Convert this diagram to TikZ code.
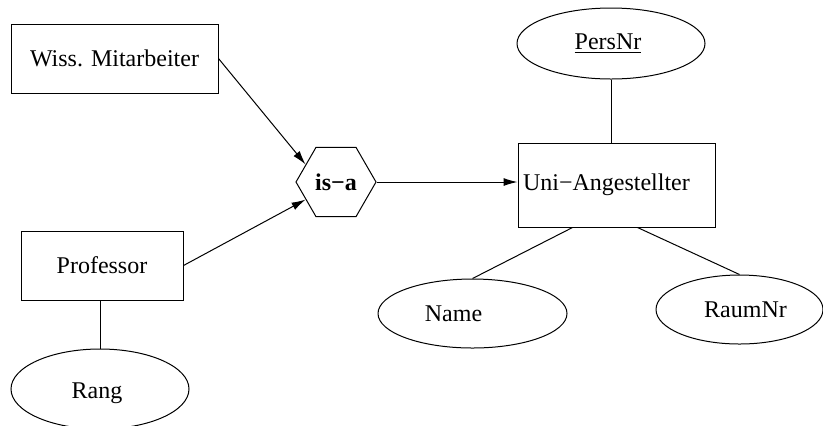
\documentclass[tikz,border=0pt]{standalone}
\usepackage{fontspec}
\setmainfont{Liberation Serif}
\usetikzlibrary{shapes.geometric, arrows.meta}

\tikzset{
    every label/.style={font=\fontsize{12}{14}\selectfont, inner sep=0pt},
    entity/.style={draw, rectangle, line width=0.5pt, font=\fontsize{12}{14}\selectfont},
    attr/.style={draw, ellipse, line width=0.5pt, inner sep=0pt},
    isarel/.style={draw, regular polygon, regular polygon sides=6, minimum size=40pt,
        inner sep=0pt, line width=0.5pt, font=\fontsize{12}{14}\selectfont\bfseries},
    conn/.style={line width=0.5pt},
    isaarrow/.style={line width=0.5pt, -{Latex[length=7pt, width=4pt]}}
}

\begin{document}
\begin{tikzpicture}[x=0.5pt, y=-0.5pt]
    \useasboundingbox (0,0) rectangle (823,425);

    % Entitaeten
    \node[entity, minimum width=103.5pt, minimum height=34.5pt] (wiss) at (114.5,58.5) {Wiss. Mitarbeiter};
    \node[entity, minimum width=81pt, minimum height=34.5pt] (prof) at (102,265.5) {Professor};
    \node[entity, minimum width=98.5pt, minimum height=42pt, text width=93.5pt,
        inner xsep=2.5pt, align=left] (uni) at (616.5,185) {\raisebox{-2.5pt}{Uni−Angestellter}};

    % Generalisierung
    \node[isarel] (isa) at (336,182) {is−a};

    % Attribute
    \node[attr, minimum width=94pt, minimum height=35.5pt,
        label={[xshift=-1.5pt]center:\underline{PersNr}}] (persnr) at (611,43.5) {};
    \node[attr, minimum width=94.5pt, minimum height=34.5pt,
        label={[xshift=-9.5pt]center:Name}] (name) at (472.5,313.5) {};
    \node[attr, minimum width=83.5pt, minimum height=34.5pt,
        label={[xshift=3pt]center:RaumNr}] (raum) at (739.5,309.5) {};
    \node[attr, minimum width=89pt, minimum height=40pt,
        label={[xshift=-1.5pt, yshift=-2pt]center:Rang}] (rang) at (100,389) {};

    % Verbindungen
    \draw[isaarrow] (wiss.east) -- (isa.150);
    \draw[isaarrow] (prof.east) -- (isa.210);
    \draw[isaarrow] (isa.east) -- (uni.west |- isa.east);
    \draw[conn] (persnr.south) -- (persnr.south |- uni.north);
    \draw[conn] ([xshift=-22pt]uni.south) -- (name.north);
    \draw[conn] ([xshift=10.5pt]uni.south) -- (raum.north);
    \draw[conn] (rang.north |- prof.south) -- (rang.north);
\end{tikzpicture}
\end{document}
